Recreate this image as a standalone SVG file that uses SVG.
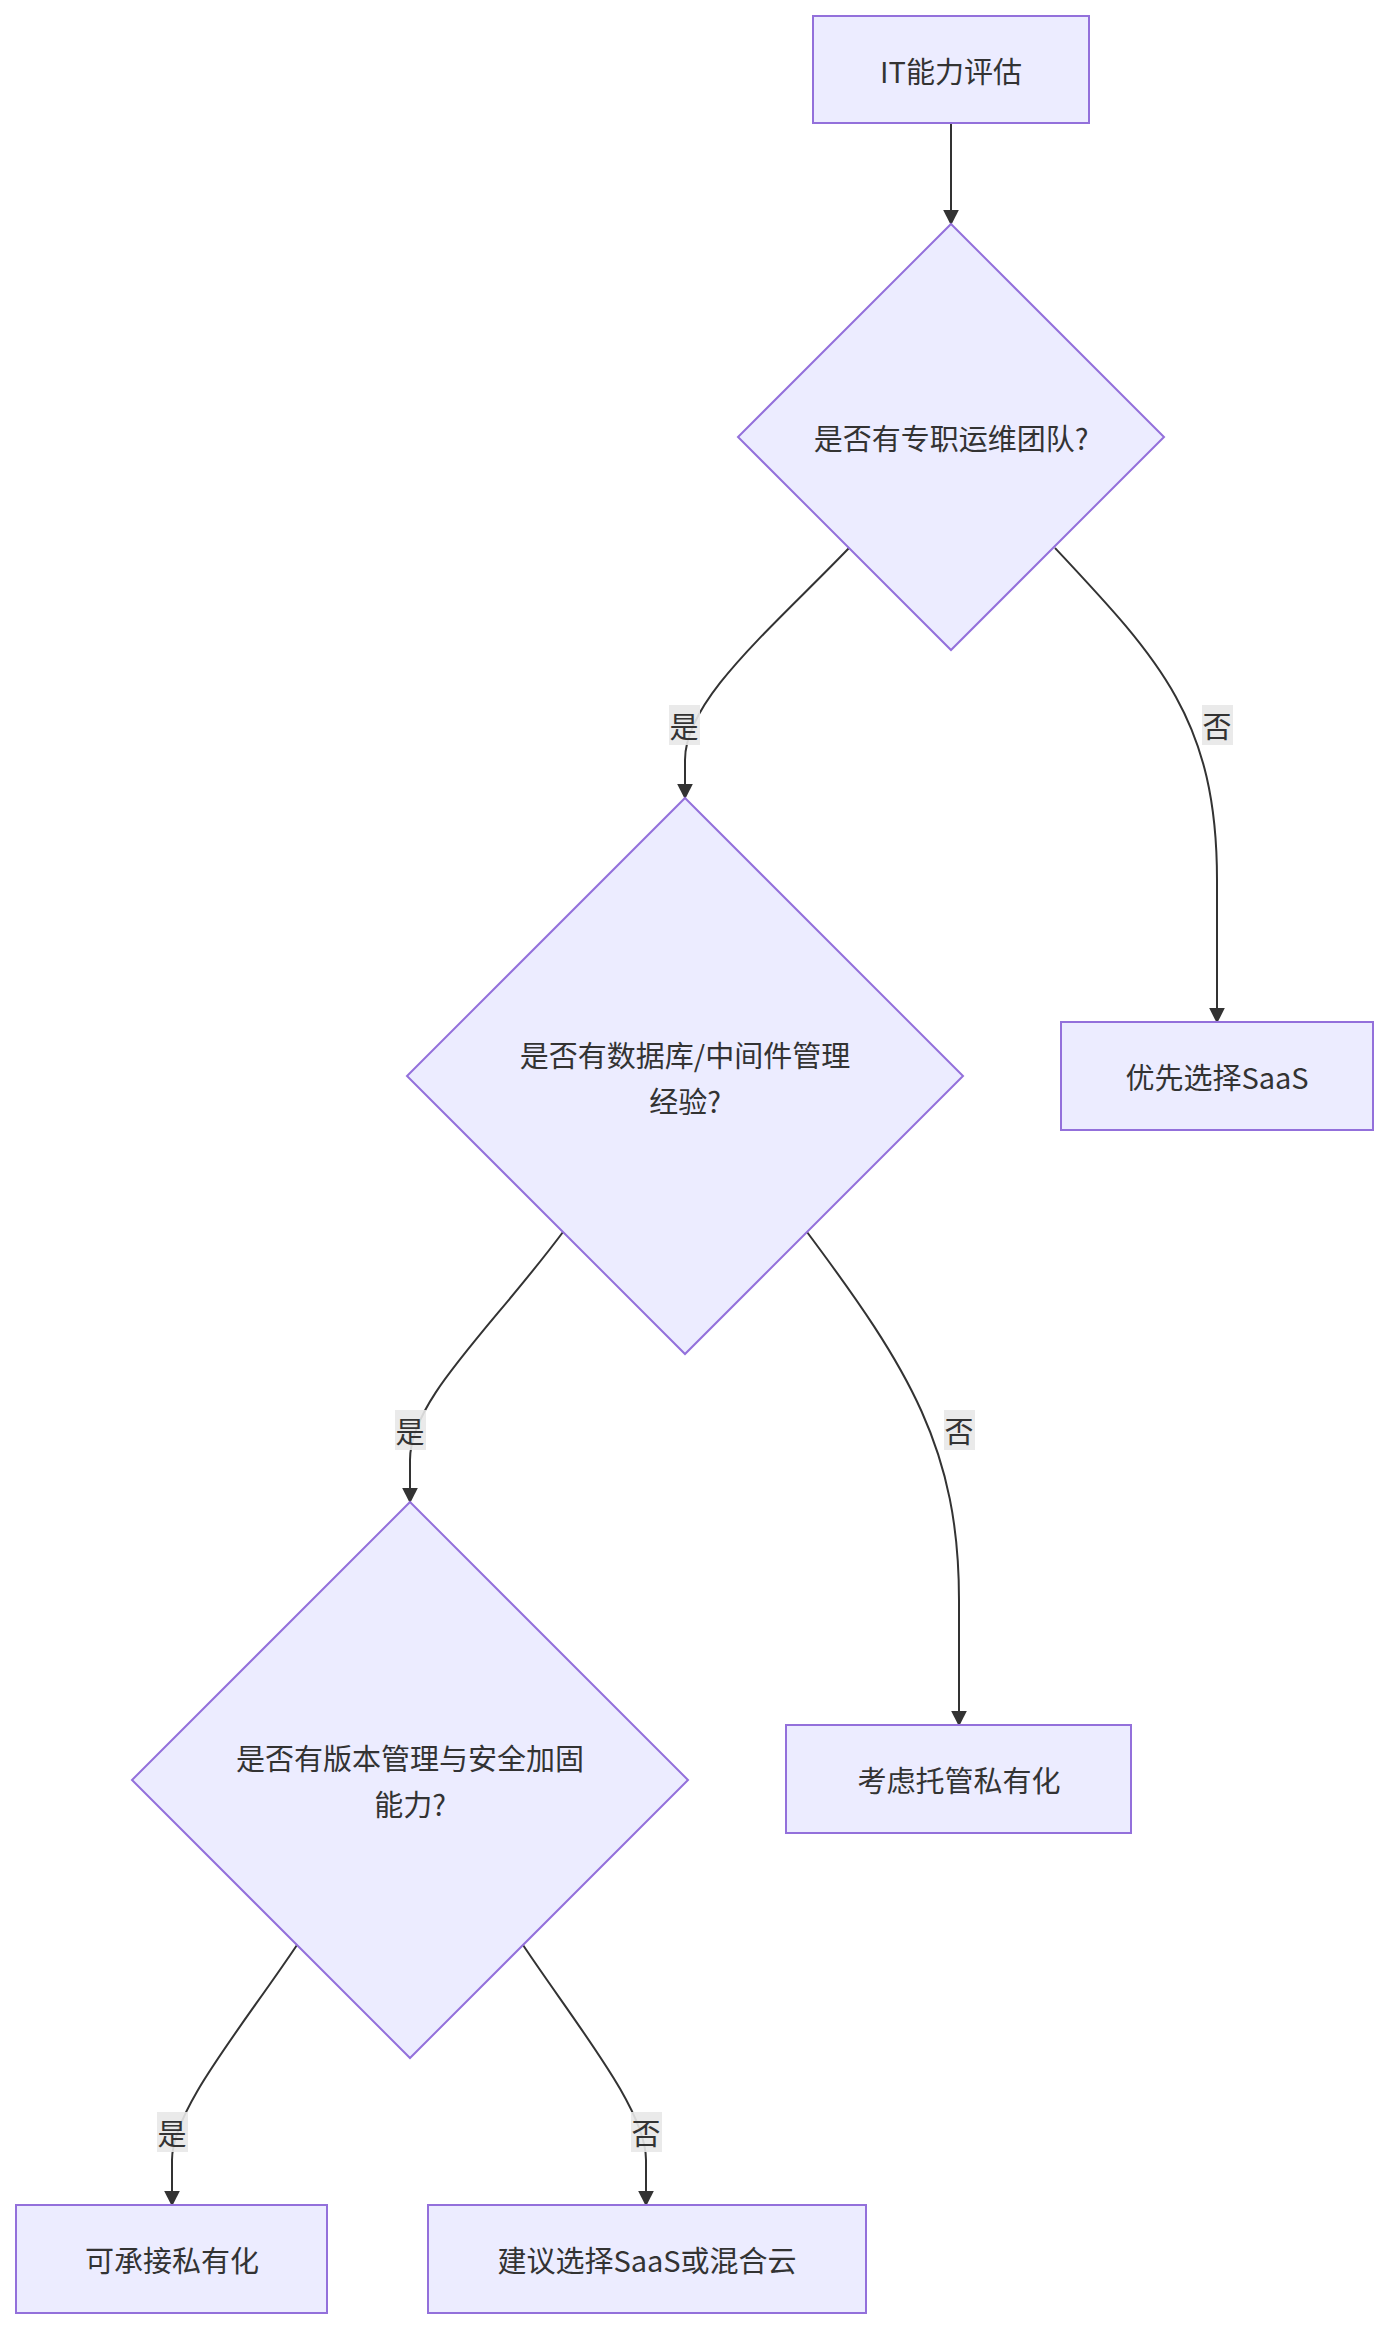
<svg xmlns="http://www.w3.org/2000/svg" width="1391" height="2332" viewBox="0 0 1391 2332">
<style>
.n{fill:#ECECFF;stroke:#9370DB;stroke-width:2}
.t{font-family:"Noto Sans CJK SC","Liberation Sans",sans-serif;font-size:29px;fill:#333;text-anchor:middle;dominant-baseline:central}
.e{fill:none;stroke:#333;stroke-width:2;marker-end:url(#ar)}
.lb{fill:#e8e8e8;opacity:0.9}
</style>
<defs><marker id="ar" viewBox="0 0 10 10" refX="9" refY="5" markerWidth="8" markerHeight="8" markerUnits="userSpaceOnUse" orient="auto"><path d="M0,0L10,5L0,10z" fill="#333"/></marker>
<marker id="ar2" viewBox="0 0 10 10" refX="9" refY="5" markerWidth="16" markerHeight="16" markerUnits="userSpaceOnUse" orient="auto"><path d="M0,0L10,5L0,10z" fill="#333"/></marker></defs>
<rect width="1391" height="2332" fill="#fff"/>
<g id="edges">
<path class="e" style="marker-end:url(#ar2)" d="M951,123L951,224"/>
<path class="e" style="marker-end:url(#ar2)" d="M849,548C770,630 685,700 685,760L685,798"/>
<path class="e" style="marker-end:url(#ar2)" d="M1055,548C1160,660 1217,720 1217,880L1217,1022"/>
<path class="e" style="marker-end:url(#ar2)" d="M563,1232C490,1330 410,1400 410,1460L410,1502"/>
<path class="e" style="marker-end:url(#ar2)" d="M807,1232C910,1370 959,1450 959,1600L959,1725"/>
<path class="e" style="marker-end:url(#ar2)" d="M297,1945C240,2030 172,2110 172,2160L172,2205"/>
<path class="e" style="marker-end:url(#ar2)" d="M523,1945C580,2030 646,2110 646,2160L646,2205"/>
<rect class="lb" x="669" y="705" width="31" height="40"/><text class="t" x="684" y="725">是</text>
<rect class="lb" x="1202" y="705" width="31" height="40"/><text class="t" x="1217" y="725">否</text>
<rect class="lb" x="395" y="1410" width="31" height="40"/><text class="t" x="410" y="1430">是</text>
<rect class="lb" x="944" y="1410" width="31" height="40"/><text class="t" x="959" y="1430">否</text>
<rect class="lb" x="157" y="2112" width="31" height="40"/><text class="t" x="172" y="2132">是</text>
<rect class="lb" x="631" y="2112" width="31" height="40"/><text class="t" x="646" y="2132">否</text>
</g>
<g id="A"><rect class="n" x="813" y="16" width="276" height="107"/><text class="t" x="951" y="70">IT能力评估</text></g>
<g id="B"><polygon class="n" points="951,224 1164,437 951,650 738,437"/><text class="t" x="951" y="437">是否有专职运维团队?</text></g>
<g id="C"><polygon class="n" points="685,798 963,1076 685,1354 407,1076"/><text class="t" x="685" y="1054">是否有数据库/中间件管理</text><text class="t" x="685" y="1100">经验?</text></g>
<g id="D"><rect class="n" x="1061" y="1022" width="312" height="108"/><text class="t" x="1217" y="1076">优先选择SaaS</text></g>
<g id="E"><polygon class="n" points="410,1502 688,1780 410,2058 132,1780"/><text class="t" x="410" y="1757">是否有版本管理与安全加固</text><text class="t" x="410" y="1803">能力?</text></g>
<g id="F"><rect class="n" x="786" y="1725" width="345" height="108"/><text class="t" x="959" y="1779">考虑托管私有化</text></g>
<g id="G"><rect class="n" x="16" y="2205" width="311" height="108"/><text class="t" x="172" y="2259">可承接私有化</text></g>
<g id="H"><rect class="n" x="428" y="2205" width="438" height="108"/><text class="t" x="647" y="2259">建议选择SaaS或混合云</text></g>
</svg>
